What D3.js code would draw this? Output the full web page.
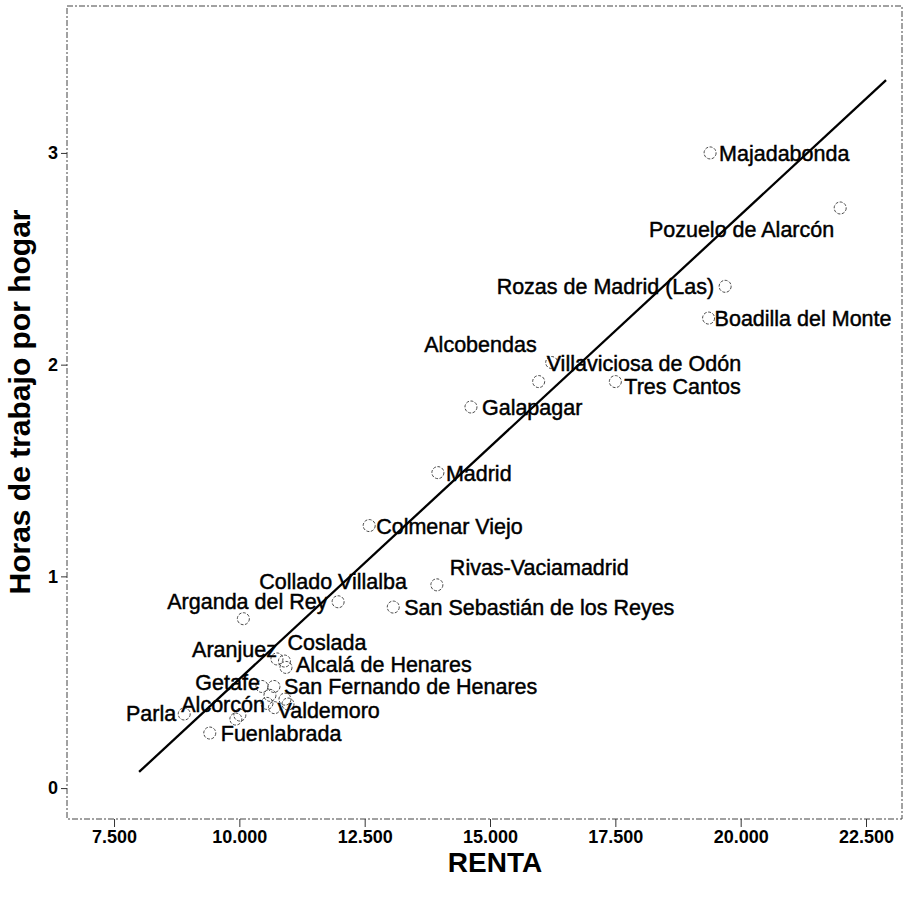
<!DOCTYPE html>
<html>
<head>
<meta charset="utf-8">
<script src="https://cdn.jsdelivr.net/npm/d3@7"></script>
<style>
  body { margin: 0; background: #fff; }
  svg { display: block; }
</style>
</head>
<body>
<svg id="chart" width="906" height="906"></svg>
<script>
// Municipios de la Comunidad de Madrid: renta por hogar y horas de trabajo
const municipios = [
  "Majadabonda", "Pozuelo de Alarcón", "Rozas de Madrid (Las)", "Boadilla del Monte",
  "Villaviciosa de Odón", "Alcobendas", "Tres Cantos", "Galapagar", "Madrid",
  "Colmenar Viejo", "Rivas-Vaciamadrid", "San Sebastián de los Reyes", "Collado Villalba",
  "Arganda del Rey", "Aranjuez", "Coslada", "Alcalá de Henares", "Getafe",
  "San Fernando de Henares", "Alcorcón", "Valdemoro", "Parla", "Fuenlabrada"
];
const renta = [
  19390, 21985, 19690, 19360,
  16230, 15970, 17500, 14620, 13960,
  12590, 13940, 13070, 11970,
  10080, 10750, 10900, 10930, 10450,
  10690, 10550, 10700, 8900, 9410
];
const horas = [
  3.00, 2.74, 2.37, 2.22,
  2.01, 1.92, 1.92, 1.80, 1.49,
  1.24, 0.96, 0.855, 0.88,
  0.80, 0.61, 0.60, 0.57, 0.48,
  0.48, 0.40, 0.38, 0.35, 0.26
];
// Municipios sin etiqueta (solapados en el grupo inferior)
const rentaSinEtiqueta = [10610, 10910, 10970, 10010, 9930];
const horasSinEtiqueta = [0.438, 0.42, 0.397, 0.345, 0.326];

const xTicks = [7500, 10000, 12500, 15000, 17500, 20000, 22500];
const yTicks = [0, 1, 2, 3];

// Recta de ajuste lineal
const ajusteOrdenada = -1.678;
const ajustePendiente = 0.0002193;
const ajusteRango = [8000, 22900];

// Colocación de cada etiqueta respecto a su punto
const colocacion = {
  "Majadabonda": ["start", 9, 8],
  "Pozuelo de Alarcón": ["end", -6, 29],
  "Rozas de Madrid (Las)": ["end", -11, 8],
  "Boadilla del Monte": ["start", 6, 8],
  "Villaviciosa de Odón": ["start", -5, 8],
  "Alcobendas": ["end", -2, -30],
  "Tres Cantos": ["start", 9, 12],
  "Galapagar": ["start", 11, 8],
  "Madrid": ["start", 8, 8],
  "Colmenar Viejo": ["start", 7, 8],
  "Rivas-Vaciamadrid": ["start", 13, -10],
  "San Sebastián de los Reyes": ["start", 11, 8],
  "Collado Villalba": ["middle", -5, -13],
  "Arganda del Rey": ["middle", 4, -10],
  "Aranjuez": ["end", 0, -2],
  "Coslada": ["start", 3, -11],
  "Alcalá de Henares": ["start", 10, 5],
  "Getafe": ["end", -2, 4],
  "San Fernando de Henares": ["start", 10, 8],
  "Alcorcón": ["end", -2, 9],
  "Valdemoro": ["start", 3, 10],
  "Parla": ["end", -8, 7],
  "Fuenlabrada": ["start", 11, 8]
};

const frame = { left: 67, top: 6, right: 902, bottom: 819 };

const svg = d3.select("#chart");

const x = d3.scaleLinear().domain([6562, 23218]).range([frame.left, frame.right]);
const y = d3.scaleLinear().domain([-0.146, 3.694]).range([frame.bottom, frame.top]);

const es = d3.formatLocale({ decimal: ",", thousands: ".", grouping: [3], currency: ["", " €"] });
const fmtMiles = es.format(",.0f");

const font = "'Liberation Sans', Arial, Helvetica, sans-serif";

// Marco del gráfico
svg.append("rect")
  .attr("x", frame.left).attr("y", frame.top)
  .attr("width", frame.right - frame.left).attr("height", frame.bottom - frame.top)
  .attr("fill", "none").attr("stroke", "#444").attr("stroke-width", 1)
  .attr("stroke-dasharray", "6,2,2,2");

// Eje X
const gx = svg.append("g")
  .attr("transform", `translate(0,${frame.bottom})`)
  .call(d3.axisBottom(x).tickValues(xTicks).tickSize(8).tickPadding(3).tickFormat(fmtMiles));
gx.select(".domain").remove();
gx.selectAll(".tick line").attr("stroke", "#333").attr("stroke-width", 1);
gx.selectAll(".tick text")
  .attr("fill", "#000").style("font-family", font).style("font-size", "18px").style("font-weight", "bold");

// Eje Y
const gy = svg.append("g")
  .attr("transform", `translate(${frame.left},0)`)
  .call(d3.axisLeft(y).tickValues(yTicks).tickSize(6).tickPadding(3).tickFormat(d3.format("d")));
gy.select(".domain").remove();
gy.selectAll(".tick line").attr("stroke", "#333").attr("stroke-width", 1);
gy.selectAll(".tick text")
  .attr("fill", "#000").style("font-family", font).style("font-size", "18px").style("font-weight", "bold");

// Títulos de los ejes
svg.append("text")
  .attr("x", 495).attr("y", 872)
  .attr("text-anchor", "middle")
  .style("font-family", font).style("font-size", "28px").style("font-weight", "bold")
  .text("RENTA");

svg.append("text")
  .attr("transform", `translate(30,402) rotate(-90)`)
  .attr("text-anchor", "middle")
  .style("font-family", font).style("font-size", "30px").style("font-weight", "bold")
  .text("Horas de trabajo por hogar");

// Recta de ajuste
svg.append("line")
  .attr("x1", x(ajusteRango[0])).attr("y1", y(ajusteOrdenada + ajustePendiente * ajusteRango[0]))
  .attr("x2", x(ajusteRango[1])).attr("y2", y(ajusteOrdenada + ajustePendiente * ajusteRango[1]))
  .attr("stroke", "#000").attr("stroke-width", 2.3);

// Puntos
const puntos = municipios.map((m, i) => ({ m, r: renta[i], h: horas[i] }))
  .concat(rentaSinEtiqueta.map((r, i) => ({ m: null, r, h: horasSinEtiqueta[i] })));

svg.append("g").selectAll("circle")
  .data(puntos)
  .join("circle")
  .attr("cx", d => x(d.r)).attr("cy", d => y(d.h)).attr("r", 6)
  .attr("fill", "none").attr("stroke", "#333").attr("stroke-width", 0.9)
  .attr("stroke-dasharray", "3,1.5");

// Etiquetas
svg.append("g").selectAll("text")
  .data(puntos.filter(d => d.m))
  .join("text")
  .attr("x", d => x(d.r) + colocacion[d.m][1])
  .attr("y", d => y(d.h) + colocacion[d.m][2])
  .attr("text-anchor", d => colocacion[d.m][0])
  .style("font-family", font).style("font-size", "21.5px")
  .attr("fill", "#000").attr("stroke", "#000").attr("stroke-width", 0.45)
  .text(d => d.m);
</script>
</body>
</html>
